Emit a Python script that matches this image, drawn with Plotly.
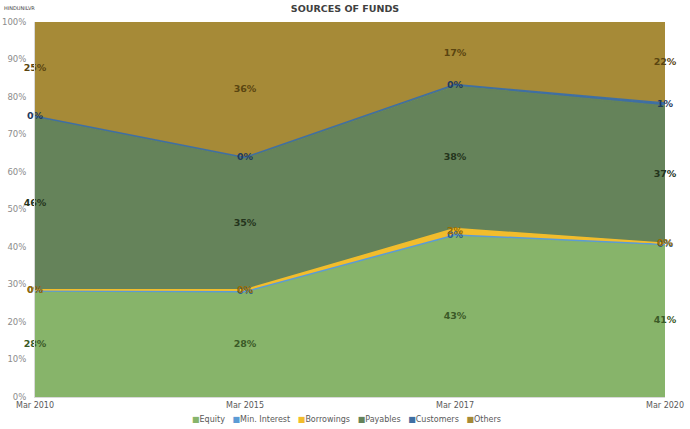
import plotly.graph_objects as go

periods = ["Mar 2010", "Mar 2015", "Mar 2017", "Mar 2020"]

equity = [28.2, 28.0, 43.0, 40.6]
min_interest = [0.1, 0.1, 0.2, 0.1]
borrowings = [0.3, 0.5, 1.7, 0.3]
payables = [46.0, 35.0, 38.0, 36.6]
customers = [0.3, 0.3, 0.4, 0.8]
others = [25.1, 36.1, 16.7, 21.6]

series = [
    ("Equity", equity, "#87b46a", "#3b5a27"),
    ("Min. Interest", min_interest, "#5b9bd5", "#2e5f8f"),
    ("Borrowings", borrowings, "#f2bd2c", "#9a6d00"),
    ("Payables", payables, "#65835a", "#24341c"),
    ("Customers", customers, "#3f6fa3", "#1f3a5f"),
    ("Others", others, "#a68a37", "#5a4510"),
]

totals = [sum(s[1][i] for s in series) for i in range(len(periods))]

fig = go.Figure()

for name, vals, color, text_color in series:
    fig.add_trace(go.Scatter(
        x=periods,
        y=vals,
        name=name,
        mode="lines",
        stackgroup="one",
        groupnorm="percent",
        line=dict(color=color, width=1.5),
        fillcolor=color,
        showlegend=False,
        hoverinfo="skip",
    ))

# labels at the middle of each band
base = [0.0] * len(periods)
for name, vals, color, text_color in series:
    pct = [v / t * 100 for v, t in zip(vals, totals)]
    mid = [b + p / 2 for b, p in zip(base, pct)]
    fig.add_trace(go.Scatter(
        x=periods,
        y=mid,
        mode="text",
        text=["%d%%" % round(p) for p in pct],
        textfont=dict(family="DejaVu Sans", size=9.5, color=text_color, weight="bold"),
        showlegend=False,
        hoverinfo="skip",
        cliponaxis=False,
    ))
    base = [b + p for b, p in zip(base, pct)]

# legend row drawn as text with coloured squares
legend_text = "   ".join(
    "<span style='color:%s'>■</span>%s" % (color, name)
    for name, vals, color, text_color in series
)

fig.update_layout(
    template="plotly_white",
    width=690,
    height=429,
    margin=dict(l=35, r=25, t=22, b=32),
    font=dict(family="DejaVu Sans", size=8, color="#595959"),
    title=dict(
        text="<b>SOURCES OF FUNDS</b>",
        x=0.5,
        xanchor="center",
        y=0.979,
        yanchor="middle",
        font=dict(family="DejaVu Sans", size=9.5, color="#404040"),
    ),
    showlegend=False,
    annotations=[
        dict(
            text="HINDUNILVR",
            xref="paper",
            yref="paper",
            x=-0.052,
            y=1.05,
            xanchor="left",
            yanchor="top",
            showarrow=False,
            font=dict(size=5, color="#404040"),
        ),
        dict(
            text=legend_text,
            xref="paper",
            yref="paper",
            x=0.494,
            y=-0.059,
            xanchor="center",
            yanchor="middle",
            showarrow=False,
            font=dict(size=8, color="#595959"),
        ),
    ],
)

fig.update_xaxes(
    type="category",
    range=[0, 3],
    automargin=False,
    showgrid=False,
    showline=True,
    linecolor="#d9d9d9",
    ticks="",
    tickfont=dict(size=8, color="#595959"),
)
fig.update_yaxes(
    range=[0, 100],
    dtick=10,
    ticksuffix="%",
    automargin=False,
    ticklabelstandoff=6,
    showgrid=False,
    showline=True,
    linecolor="#d9d9d9",
    zeroline=False,
    tickfont=dict(size=8.5, color="#8c8c8c"),
)

fig.write_html(
    "out.html",
    config={"displayModeBar": False},
    post_script="document.body.style.margin='0';",
)
